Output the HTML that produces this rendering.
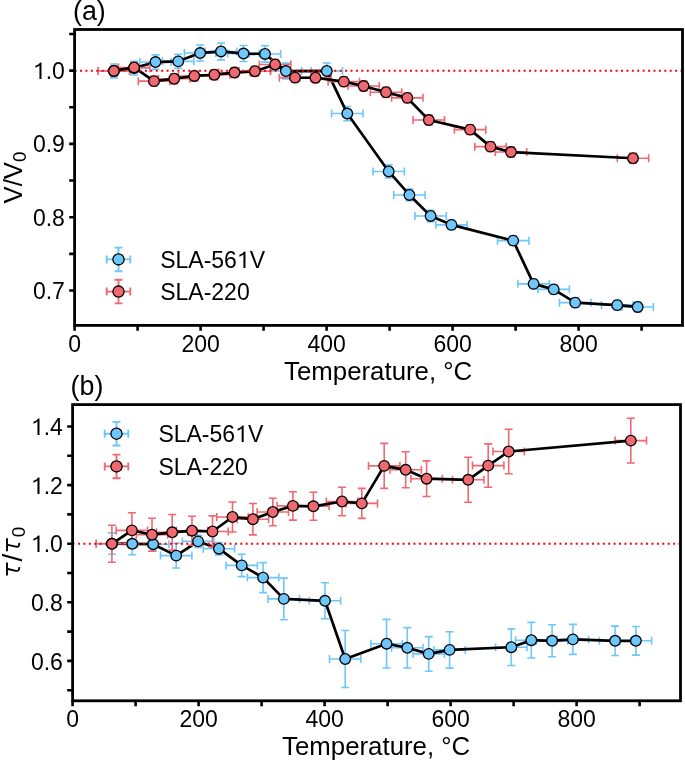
<!DOCTYPE html>
<html><head><meta charset="utf-8"><style>
html,body{margin:0;padding:0;background:#fff;}
svg{display:block;font-family:"Liberation Sans", sans-serif;will-change:transform;}
text{}
</style></head><body>
<svg width="685" height="762" viewBox="0 0 685 762">
<rect width="685" height="762" fill="#fff"/>
<path d="M98.20,70.95H129.60M98.20,66.95V74.95M129.60,66.95V74.95M113.90,64.05V77.85M109.90,64.05H117.90M109.90,77.85H117.90M118.40,68.15H149.80M118.40,64.15V72.15M149.80,64.15V72.15M134.10,61.35V74.95M130.10,61.35H138.10M130.10,74.95H138.10M139.80,62.05H171.20M139.80,58.05V66.05M171.20,58.05V66.05M155.50,54.85V69.25M151.50,54.85H159.50M151.50,69.25H159.50M162.50,61.35H193.90M162.50,57.35V65.35M193.90,57.35V65.35M178.20,54.35V68.35M174.20,54.35H182.20M174.20,68.35H182.20M184.40,53.05H215.80M184.40,49.05V57.05M215.80,49.05V57.05M200.10,45.05V61.05M196.10,45.05H204.10M196.10,61.05H204.10M205.30,51.45H236.70M205.30,47.45V55.45M236.70,47.45V55.45M221.00,43.05V59.85M217.00,43.05H225.00M217.00,59.85H225.00M227.80,53.55H259.20M227.80,49.55V57.55M259.20,49.55V57.55M243.50,45.55V61.55M239.50,45.55H247.50M239.50,61.55H247.50M249.30,53.95H280.70M249.30,49.95V57.95M280.70,49.95V57.95M265.00,45.75V62.15M261.00,45.75H269.00M261.00,62.15H269.00M270.20,71.05H301.60M270.20,67.05V75.05M301.60,67.05V75.05M285.90,63.15V78.95M281.90,63.15H289.90M281.90,78.95H289.90M311.10,70.95H342.50M311.10,66.95V74.95M342.50,66.95V74.95M326.80,62.95V78.95M322.80,62.95H330.80M322.80,78.95H330.80M331.60,113.55H363.00M331.60,109.55V117.55M363.00,109.55V117.55M347.30,106.45V120.65M343.30,106.45H351.30M343.30,120.65H351.30M373.00,171.45H404.40M373.00,167.45V175.45M404.40,167.45V175.45M388.70,164.85V178.05M384.70,164.85H392.70M384.70,178.05H392.70M393.70,194.95H425.10M393.70,190.95V198.95M425.10,190.95V198.95M409.40,189.15V200.75M405.40,189.15H413.40M405.40,200.75H413.40M414.90,215.95H446.30M414.90,211.95V219.95M446.30,211.95V219.95M430.60,210.25V221.65M426.60,210.25H434.60M426.60,221.65H434.60M435.80,224.85H467.20M435.80,220.85V228.85M467.20,220.85V228.85M451.50,219.95V229.75M447.50,219.95H455.50M447.50,229.75H455.50M497.50,240.65H528.90M497.50,236.65V244.65M528.90,236.65V244.65M513.20,235.75V245.55M509.20,235.75H517.20M509.20,245.55H517.20M517.90,283.85H549.30M517.90,279.85V287.85M549.30,279.85V287.85M533.60,278.95V288.75M529.60,278.95H537.60M529.60,288.75H537.60M538.00,289.35H569.40M538.00,285.35V293.35M569.40,285.35V293.35M553.70,284.45V294.25M549.70,284.45H557.70M549.70,294.25H557.70M559.50,302.65H590.90M559.50,298.65V306.65M590.90,298.65V306.65M575.20,297.75V307.55M571.20,297.75H579.20M571.20,307.55H579.20M601.50,305.15H632.90M601.50,301.15V309.15M632.90,301.15V309.15M617.20,300.25V310.05M613.20,300.25H621.20M613.20,310.05H621.20M622.00,306.95H653.40M622.00,302.95V310.95M653.40,302.95V310.95M637.70,302.05V311.85M633.70,302.05H641.70M633.70,311.85H641.70" stroke="#6ec6fa" stroke-width="1.6" fill="none"/>
<path d="M113.90,70.95L134.10,68.15L155.50,62.05L178.20,61.35L200.10,53.05L221.00,51.45L243.50,53.55L265.00,53.95L285.90,71.05L326.80,70.95L347.30,113.55L388.70,171.45L409.40,194.95L430.60,215.95L451.50,224.85L513.20,240.65L533.60,283.85L553.70,289.35L575.20,302.65L617.20,305.15L637.70,306.95" stroke="#000" stroke-width="2.7" fill="none" stroke-linejoin="round"/>
<path d="M98.20,70.95H129.60M98.20,66.95V74.95M129.60,66.95V74.95M113.90,66.05V75.85M109.90,66.05H117.90M109.90,75.85H117.90M118.40,67.45H149.80M118.40,63.45V71.45M149.80,63.45V71.45M134.10,62.55V72.35M130.10,62.55H138.10M130.10,72.35H138.10M138.30,81.15H169.70M138.30,77.15V85.15M169.70,77.15V85.15M154.00,76.25V86.05M150.00,76.25H158.00M150.00,86.05H158.00M158.50,78.75H189.90M158.50,74.75V82.75M189.90,74.75V82.75M174.20,73.85V83.65M170.20,73.85H178.20M170.20,83.65H178.20M178.60,75.95H210.00M178.60,71.95V79.95M210.00,71.95V79.95M194.30,71.05V80.85M190.30,71.05H198.30M190.30,80.85H198.30M198.60,74.75H230.00M198.60,70.75V78.75M230.00,70.75V78.75M214.30,69.85V79.65M210.30,69.85H218.30M210.30,79.65H218.30M218.80,72.55H250.20M218.80,68.55V76.55M250.20,68.55V76.55M234.50,67.65V77.45M230.50,67.65H238.50M230.50,77.45H238.50M239.20,71.25H270.60M239.20,67.25V75.25M270.60,67.25V75.25M254.90,66.35V76.15M250.90,66.35H258.90M250.90,76.15H258.90M259.40,64.45H290.80M259.40,60.45V68.45M290.80,60.45V68.45M275.10,59.55V69.35M271.10,59.55H279.10M271.10,69.35H279.10M279.30,77.65H310.70M279.30,73.65V81.65M310.70,73.65V81.65M295.00,72.75V82.55M291.00,72.75H299.00M291.00,82.55H299.00M299.80,77.75H331.20M299.80,73.75V81.75M331.20,73.75V81.75M315.50,72.85V82.65M311.50,72.85H319.50M311.50,82.65H319.50M328.10,81.65H359.50M328.10,77.65V85.65M359.50,77.65V85.65M343.80,76.75V86.55M339.80,76.75H347.80M339.80,86.55H347.80M347.90,86.05H379.30M347.90,82.05V90.05M379.30,82.05V90.05M363.60,81.15V90.95M359.60,81.15H367.60M359.60,90.95H367.60M370.30,92.25H401.70M370.30,88.25V96.25M401.70,88.25V96.25M386.00,87.35V97.15M382.00,87.35H390.00M382.00,97.15H390.00M391.60,97.85H423.00M391.60,93.85V101.85M423.00,93.85V101.85M407.30,92.95V102.75M403.30,92.95H411.30M403.30,102.75H411.30M413.10,120.05H444.50M413.10,116.05V124.05M444.50,116.05V124.05M428.80,115.15V124.95M424.80,115.15H432.80M424.80,124.95H432.80M454.40,129.65H485.80M454.40,125.65V133.65M485.80,125.65V133.65M470.10,124.75V134.55M466.10,124.75H474.10M466.10,134.55H474.10M474.80,146.65H506.20M474.80,142.65V150.65M506.20,142.65V150.65M490.50,141.75V151.55M486.50,141.75H494.50M486.50,151.55H494.50M495.30,152.05H526.70M495.30,148.05V156.05M526.70,148.05V156.05M511.00,147.15V156.95M507.00,147.15H515.00M507.00,156.95H515.00M617.30,158.25H648.70M617.30,154.25V162.25M648.70,154.25V162.25M633.00,153.35V163.15M629.00,153.35H637.00M629.00,163.15H637.00" stroke="#f06870" stroke-width="1.6" fill="none"/>
<path d="M113.90,70.95L134.10,67.45L154.00,81.15L174.20,78.75L194.30,75.95L214.30,74.75L234.50,72.55L254.90,71.25L275.10,64.45L295.00,77.65L315.50,77.75L343.80,81.65L363.60,86.05L386.00,92.25L407.30,97.85L428.80,120.05L470.10,129.65L490.50,146.65L511.00,152.05L633.00,158.25" stroke="#000" stroke-width="2.7" fill="none" stroke-linejoin="round"/>
<line x1="74.60" y1="70.85" x2="681.10" y2="70.85" stroke="#ff0000" stroke-width="2" stroke-dasharray="2 3.41"/>
<circle cx="113.90" cy="70.95" r="5.3" fill="#6ec6fa" stroke="#000" stroke-width="1.3"/>
<circle cx="134.10" cy="68.15" r="5.3" fill="#6ec6fa" stroke="#000" stroke-width="1.3"/>
<circle cx="155.50" cy="62.05" r="5.3" fill="#6ec6fa" stroke="#000" stroke-width="1.3"/>
<circle cx="178.20" cy="61.35" r="5.3" fill="#6ec6fa" stroke="#000" stroke-width="1.3"/>
<circle cx="200.10" cy="53.05" r="5.3" fill="#6ec6fa" stroke="#000" stroke-width="1.3"/>
<circle cx="221.00" cy="51.45" r="5.3" fill="#6ec6fa" stroke="#000" stroke-width="1.3"/>
<circle cx="243.50" cy="53.55" r="5.3" fill="#6ec6fa" stroke="#000" stroke-width="1.3"/>
<circle cx="265.00" cy="53.95" r="5.3" fill="#6ec6fa" stroke="#000" stroke-width="1.3"/>
<circle cx="285.90" cy="71.05" r="5.3" fill="#6ec6fa" stroke="#000" stroke-width="1.3"/>
<circle cx="326.80" cy="70.95" r="5.3" fill="#6ec6fa" stroke="#000" stroke-width="1.3"/>
<circle cx="347.30" cy="113.55" r="5.3" fill="#6ec6fa" stroke="#000" stroke-width="1.3"/>
<circle cx="388.70" cy="171.45" r="5.3" fill="#6ec6fa" stroke="#000" stroke-width="1.3"/>
<circle cx="409.40" cy="194.95" r="5.3" fill="#6ec6fa" stroke="#000" stroke-width="1.3"/>
<circle cx="430.60" cy="215.95" r="5.3" fill="#6ec6fa" stroke="#000" stroke-width="1.3"/>
<circle cx="451.50" cy="224.85" r="5.3" fill="#6ec6fa" stroke="#000" stroke-width="1.3"/>
<circle cx="513.20" cy="240.65" r="5.3" fill="#6ec6fa" stroke="#000" stroke-width="1.3"/>
<circle cx="533.60" cy="283.85" r="5.3" fill="#6ec6fa" stroke="#000" stroke-width="1.3"/>
<circle cx="553.70" cy="289.35" r="5.3" fill="#6ec6fa" stroke="#000" stroke-width="1.3"/>
<circle cx="575.20" cy="302.65" r="5.3" fill="#6ec6fa" stroke="#000" stroke-width="1.3"/>
<circle cx="617.20" cy="305.15" r="5.3" fill="#6ec6fa" stroke="#000" stroke-width="1.3"/>
<circle cx="637.70" cy="306.95" r="5.3" fill="#6ec6fa" stroke="#000" stroke-width="1.3"/>
<circle cx="113.90" cy="70.95" r="5.3" fill="#f06870" stroke="#000" stroke-width="1.3"/>
<circle cx="134.10" cy="67.45" r="5.3" fill="#f06870" stroke="#000" stroke-width="1.3"/>
<circle cx="154.00" cy="81.15" r="5.3" fill="#f06870" stroke="#000" stroke-width="1.3"/>
<circle cx="174.20" cy="78.75" r="5.3" fill="#f06870" stroke="#000" stroke-width="1.3"/>
<circle cx="194.30" cy="75.95" r="5.3" fill="#f06870" stroke="#000" stroke-width="1.3"/>
<circle cx="214.30" cy="74.75" r="5.3" fill="#f06870" stroke="#000" stroke-width="1.3"/>
<circle cx="234.50" cy="72.55" r="5.3" fill="#f06870" stroke="#000" stroke-width="1.3"/>
<circle cx="254.90" cy="71.25" r="5.3" fill="#f06870" stroke="#000" stroke-width="1.3"/>
<circle cx="275.10" cy="64.45" r="5.3" fill="#f06870" stroke="#000" stroke-width="1.3"/>
<circle cx="295.00" cy="77.65" r="5.3" fill="#f06870" stroke="#000" stroke-width="1.3"/>
<circle cx="315.50" cy="77.75" r="5.3" fill="#f06870" stroke="#000" stroke-width="1.3"/>
<circle cx="343.80" cy="81.65" r="5.3" fill="#f06870" stroke="#000" stroke-width="1.3"/>
<circle cx="363.60" cy="86.05" r="5.3" fill="#f06870" stroke="#000" stroke-width="1.3"/>
<circle cx="386.00" cy="92.25" r="5.3" fill="#f06870" stroke="#000" stroke-width="1.3"/>
<circle cx="407.30" cy="97.85" r="5.3" fill="#f06870" stroke="#000" stroke-width="1.3"/>
<circle cx="428.80" cy="120.05" r="5.3" fill="#f06870" stroke="#000" stroke-width="1.3"/>
<circle cx="470.10" cy="129.65" r="5.3" fill="#f06870" stroke="#000" stroke-width="1.3"/>
<circle cx="490.50" cy="146.65" r="5.3" fill="#f06870" stroke="#000" stroke-width="1.3"/>
<circle cx="511.00" cy="152.05" r="5.3" fill="#f06870" stroke="#000" stroke-width="1.3"/>
<circle cx="633.00" cy="158.25" r="5.3" fill="#f06870" stroke="#000" stroke-width="1.3"/>
<rect x="74.60" y="29.50" width="607.90" height="295.90" fill="none" stroke="#000" stroke-width="2.8"/>
<path d="M74.60,325.40v5.40M200.60,325.40v5.40M326.60,325.40v5.40M452.60,325.40v5.40M578.60,325.40v5.40M137.60,325.40v5.40M263.60,325.40v5.40M389.60,325.40v5.40M515.60,325.40v5.40M641.60,325.40v5.40M74.60,290.50h-5.40M74.60,217.20h-5.40M74.60,143.90h-5.40M74.60,70.60h-5.40M74.60,253.85h-5.40M74.60,180.55h-5.40M74.60,107.25h-5.40M74.60,33.95h-5.40" stroke="#000" stroke-width="2.6" fill="none"/>
<text x="74.60" y="352.00" font-size="23" text-anchor="middle" >0</text>
<text x="200.60" y="352.00" font-size="23" text-anchor="middle" >200</text>
<text x="326.60" y="352.00" font-size="23" text-anchor="middle" >400</text>
<text x="452.60" y="352.00" font-size="23" text-anchor="middle" >600</text>
<text x="578.60" y="352.00" font-size="23" text-anchor="middle" >800</text>
<text x="64.90" y="299.00" font-size="23" text-anchor="end" >0.7</text>
<text x="64.90" y="225.70" font-size="23" text-anchor="end" >0.8</text>
<text x="64.90" y="152.40" font-size="23" text-anchor="end" >0.9</text>
<text x="64.90" y="79.10" font-size="23" text-anchor="end" > .0</text>
<text x="284.10" y="380.40" font-size="25.8" text-anchor="start" >Temperature, °C</text>
<text transform="translate(22.2,177.5) rotate(-90)" font-size="25.8" text-anchor="middle">V/V<tspan font-size="18.8" dy="4.2">0</tspan></text>
<text x="73.00" y="20.40" font-size="26.8" text-anchor="start" >(a)</text>
<path d="M106.70,259.40H130.30M118.50,247.60V271.20M106.70,255.40V263.40M130.30,255.40V263.40M114.50,247.60H122.50M114.50,271.20H122.50" stroke="#6ec6fa" stroke-width="1.9" fill="none"/>
<circle cx="118.50" cy="259.40" r="5.6" fill="#6ec6fa" stroke="#000" stroke-width="1.3"/>
<text x="160.20" y="267.80" font-size="23" text-anchor="start" >SLA-56 V</text>
<path d="M106.70,291.60H130.30M118.50,279.80V303.40M106.70,287.60V295.60M130.30,287.60V295.60M114.50,279.80H122.50M114.50,303.40H122.50" stroke="#f06870" stroke-width="1.9" fill="none"/>
<circle cx="118.50" cy="291.60" r="5.6" fill="#f06870" stroke="#000" stroke-width="1.3"/>
<text x="160.20" y="300.00" font-size="23" text-anchor="start" >SLA-220</text>
<path d="M96.20,543.60H127.60M96.20,539.60V547.60M127.60,539.60V547.60M111.90,532.90V554.30M107.90,532.90H115.90M107.90,554.30H115.90M116.60,543.80H148.00M116.60,539.80V547.80M148.00,539.80V547.80M132.30,532.80V554.80M128.30,532.80H136.30M128.30,554.80H136.30M137.50,544.20H168.90M137.50,540.20V548.20M168.90,540.20V548.20M153.20,537.20V551.20M149.20,537.20H157.20M149.20,551.20H157.20M160.50,555.60H191.90M160.50,551.60V559.60M191.90,551.60V559.60M176.20,543.20V568.00M172.20,543.20H180.20M172.20,568.00H180.20M182.40,541.40H213.80M182.40,537.40V545.40M213.80,537.40V545.40M198.10,535.40V547.40M194.10,535.40H202.10M194.10,547.40H202.10M203.20,548.70H234.60M203.20,544.70V552.70M234.60,544.70V552.70M218.90,542.50V554.90M214.90,542.50H222.90M214.90,554.90H222.90M226.00,565.40H257.40M226.00,561.40V569.40M257.40,561.40V569.40M241.70,554.20V576.60M237.70,554.20H245.70M237.70,576.60H245.70M247.40,577.60H278.80M247.40,573.60V581.60M278.80,573.60V581.60M263.10,562.60V592.60M259.10,562.60H267.10M259.10,592.60H267.10M268.10,598.90H299.50M268.10,594.90V602.90M299.50,594.90V602.90M283.80,578.10V619.70M279.80,578.10H287.80M279.80,619.70H287.80M309.30,600.80H340.70M309.30,596.80V604.80M340.70,596.80V604.80M325.00,582.80V618.80M321.00,582.80H329.00M321.00,618.80H329.00M329.50,659.00H360.90M329.50,655.00V663.00M360.90,655.00V663.00M345.20,630.50V687.50M341.20,630.50H349.20M341.20,687.50H349.20M370.90,643.70H402.30M370.90,639.70V647.70M402.30,639.70V647.70M386.60,619.40V668.00M382.60,619.40H390.60M382.60,668.00H390.60M391.60,647.80H423.00M391.60,643.80V651.80M423.00,643.80V651.80M407.30,627.60V668.00M403.30,627.60H411.30M403.30,668.00H411.30M413.00,653.90H444.40M413.00,649.90V657.90M444.40,649.90V657.90M428.70,636.60V671.20M424.70,636.60H432.70M424.70,671.20H432.70M433.90,649.90H465.30M433.90,645.90V653.90M465.30,645.90V653.90M449.60,631.70V668.10M445.60,631.70H453.60M445.60,668.10H453.60M495.60,647.20H527.00M495.60,643.20V651.20M527.00,643.20V651.20M511.30,628.90V665.50M507.30,628.90H515.30M507.30,665.50H515.30M515.60,640.20H547.00M515.60,636.20V644.20M547.00,636.20V644.20M531.30,622.40V658.00M527.30,622.40H535.30M527.30,658.00H535.30M536.40,640.80H567.80M536.40,636.80V644.80M567.80,636.80V644.80M552.10,624.80V656.80M548.10,624.80H556.10M548.10,656.80H556.10M557.20,639.40H588.60M557.20,635.40V643.40M588.60,635.40V643.40M572.90,624.40V654.40M568.90,624.40H576.90M568.90,654.40H576.90M599.40,640.80H630.80M599.40,636.80V644.80M630.80,636.80V644.80M615.10,626.10V655.50M611.10,626.10H619.10M611.10,655.50H619.10M620.20,640.80H651.60M620.20,636.80V644.80M651.60,636.80V644.80M635.90,626.50V655.10M631.90,626.50H639.90M631.90,655.10H639.90" stroke="#6ec6fa" stroke-width="1.6" fill="none"/>
<path d="M111.90,543.60L132.30,543.80L153.20,544.20L176.20,555.60L198.10,541.40L218.90,548.70L241.70,565.40L263.10,577.60L283.80,598.90L325.00,600.80L345.20,659.00L386.60,643.70L407.30,647.80L428.70,653.90L449.60,649.90L511.30,647.20L531.30,640.20L552.10,640.80L572.90,639.40L615.10,640.80L635.90,640.80" stroke="#000" stroke-width="2.7" fill="none" stroke-linejoin="round"/>
<path d="M96.20,543.80H127.60M96.20,539.80V547.80M127.60,539.80V547.80M111.90,525.30V562.30M107.90,525.30H115.90M107.90,562.30H115.90M116.20,530.40H147.60M116.20,526.40V534.40M147.60,526.40V534.40M131.90,512.80V548.00M127.90,512.80H135.90M127.90,548.00H135.90M136.30,534.70H167.70M136.30,530.70V538.70M167.70,530.70V538.70M152.00,518.30V551.10M148.00,518.30H156.00M148.00,551.10H156.00M156.50,532.30H187.90M156.50,528.30V536.30M187.90,528.30V536.30M172.20,514.50V550.10M168.20,514.50H176.20M168.20,550.10H176.20M176.30,530.70H207.70M176.30,526.70V534.70M207.70,526.70V534.70M192.00,516.20V545.20M188.00,516.20H196.00M188.00,545.20H196.00M196.80,531.50H228.20M196.80,527.50V535.50M228.20,527.50V535.50M212.50,515.90V547.10M208.50,515.90H216.50M208.50,547.10H216.50M216.80,517.00H248.20M216.80,513.00V521.00M248.20,513.00V521.00M232.50,502.00V532.00M228.50,502.00H236.50M228.50,532.00H236.50M237.20,519.20H268.60M237.20,515.20V523.20M268.60,515.20V523.20M252.90,503.50V534.90M248.90,503.50H256.90M248.90,534.90H256.90M257.10,512.00H288.50M257.10,508.00V516.00M288.50,508.00V516.00M272.80,498.30V525.70M268.80,498.30H276.80M268.80,525.70H276.80M277.20,505.90H308.60M277.20,501.90V509.90M308.60,501.90V509.90M292.90,491.70V520.10M288.90,491.70H296.90M288.90,520.10H296.90M297.70,506.30H329.10M297.70,502.30V510.30M329.10,502.30V510.30M313.40,492.30V520.30M309.40,492.30H317.40M309.40,520.30H317.40M326.30,501.50H357.70M326.30,497.50V505.50M357.70,497.50V505.50M342.00,487.30V515.70M338.00,487.30H346.00M338.00,515.70H346.00M346.10,503.40H377.50M346.10,499.40V507.40M377.50,499.40V507.40M361.80,488.40V518.40M357.80,488.40H365.80M357.80,518.40H365.80M368.50,465.90H399.90M368.50,461.90V469.90M399.90,461.90V469.90M384.20,443.40V488.40M380.20,443.40H388.20M380.20,488.40H388.20M390.00,469.80H421.40M390.00,465.80V473.80M421.40,465.80V473.80M405.70,451.80V487.80M401.70,451.80H409.70M401.70,487.80H409.70M410.90,478.70H442.30M410.90,474.70V482.70M442.30,474.70V482.70M426.60,460.90V496.50M422.60,460.90H430.60M422.60,496.50H430.60M452.50,479.80H483.90M452.50,475.80V483.80M483.90,475.80V483.80M468.20,457.30V502.30M464.20,457.30H472.20M464.20,502.30H472.20M472.50,465.60H503.90M472.50,461.60V469.60M503.90,461.60V469.60M488.20,443.90V487.30M484.20,443.90H492.20M484.20,487.30H492.20M493.00,451.50H524.40M493.00,447.50V455.50M524.40,447.50V455.50M508.70,429.20V473.80M504.70,429.20H512.70M504.70,473.80H512.70M615.10,440.60H646.50M615.10,436.60V444.60M646.50,436.60V444.60M630.80,418.20V463.00M626.80,418.20H634.80M626.80,463.00H634.80" stroke="#f06870" stroke-width="1.6" fill="none"/>
<path d="M111.90,543.80L131.90,530.40L152.00,534.70L172.20,532.30L192.00,530.70L212.50,531.50L232.50,517.00L252.90,519.20L272.80,512.00L292.90,505.90L313.40,506.30L342.00,501.50L361.80,503.40L384.20,465.90L405.70,469.80L426.60,478.70L468.20,479.80L488.20,465.60L508.70,451.50L630.80,440.60" stroke="#000" stroke-width="2.7" fill="none" stroke-linejoin="round"/>
<line x1="72.60" y1="543.83" x2="679.10" y2="543.83" stroke="#ff0000" stroke-width="2" stroke-dasharray="2 3.41"/>
<circle cx="111.90" cy="543.60" r="5.3" fill="#6ec6fa" stroke="#000" stroke-width="1.3"/>
<circle cx="132.30" cy="543.80" r="5.3" fill="#6ec6fa" stroke="#000" stroke-width="1.3"/>
<circle cx="153.20" cy="544.20" r="5.3" fill="#6ec6fa" stroke="#000" stroke-width="1.3"/>
<circle cx="176.20" cy="555.60" r="5.3" fill="#6ec6fa" stroke="#000" stroke-width="1.3"/>
<circle cx="198.10" cy="541.40" r="5.3" fill="#6ec6fa" stroke="#000" stroke-width="1.3"/>
<circle cx="218.90" cy="548.70" r="5.3" fill="#6ec6fa" stroke="#000" stroke-width="1.3"/>
<circle cx="241.70" cy="565.40" r="5.3" fill="#6ec6fa" stroke="#000" stroke-width="1.3"/>
<circle cx="263.10" cy="577.60" r="5.3" fill="#6ec6fa" stroke="#000" stroke-width="1.3"/>
<circle cx="283.80" cy="598.90" r="5.3" fill="#6ec6fa" stroke="#000" stroke-width="1.3"/>
<circle cx="325.00" cy="600.80" r="5.3" fill="#6ec6fa" stroke="#000" stroke-width="1.3"/>
<circle cx="345.20" cy="659.00" r="5.3" fill="#6ec6fa" stroke="#000" stroke-width="1.3"/>
<circle cx="386.60" cy="643.70" r="5.3" fill="#6ec6fa" stroke="#000" stroke-width="1.3"/>
<circle cx="407.30" cy="647.80" r="5.3" fill="#6ec6fa" stroke="#000" stroke-width="1.3"/>
<circle cx="428.70" cy="653.90" r="5.3" fill="#6ec6fa" stroke="#000" stroke-width="1.3"/>
<circle cx="449.60" cy="649.90" r="5.3" fill="#6ec6fa" stroke="#000" stroke-width="1.3"/>
<circle cx="511.30" cy="647.20" r="5.3" fill="#6ec6fa" stroke="#000" stroke-width="1.3"/>
<circle cx="531.30" cy="640.20" r="5.3" fill="#6ec6fa" stroke="#000" stroke-width="1.3"/>
<circle cx="552.10" cy="640.80" r="5.3" fill="#6ec6fa" stroke="#000" stroke-width="1.3"/>
<circle cx="572.90" cy="639.40" r="5.3" fill="#6ec6fa" stroke="#000" stroke-width="1.3"/>
<circle cx="615.10" cy="640.80" r="5.3" fill="#6ec6fa" stroke="#000" stroke-width="1.3"/>
<circle cx="635.90" cy="640.80" r="5.3" fill="#6ec6fa" stroke="#000" stroke-width="1.3"/>
<circle cx="111.90" cy="543.80" r="5.3" fill="#f06870" stroke="#000" stroke-width="1.3"/>
<circle cx="131.90" cy="530.40" r="5.3" fill="#f06870" stroke="#000" stroke-width="1.3"/>
<circle cx="152.00" cy="534.70" r="5.3" fill="#f06870" stroke="#000" stroke-width="1.3"/>
<circle cx="172.20" cy="532.30" r="5.3" fill="#f06870" stroke="#000" stroke-width="1.3"/>
<circle cx="192.00" cy="530.70" r="5.3" fill="#f06870" stroke="#000" stroke-width="1.3"/>
<circle cx="212.50" cy="531.50" r="5.3" fill="#f06870" stroke="#000" stroke-width="1.3"/>
<circle cx="232.50" cy="517.00" r="5.3" fill="#f06870" stroke="#000" stroke-width="1.3"/>
<circle cx="252.90" cy="519.20" r="5.3" fill="#f06870" stroke="#000" stroke-width="1.3"/>
<circle cx="272.80" cy="512.00" r="5.3" fill="#f06870" stroke="#000" stroke-width="1.3"/>
<circle cx="292.90" cy="505.90" r="5.3" fill="#f06870" stroke="#000" stroke-width="1.3"/>
<circle cx="313.40" cy="506.30" r="5.3" fill="#f06870" stroke="#000" stroke-width="1.3"/>
<circle cx="342.00" cy="501.50" r="5.3" fill="#f06870" stroke="#000" stroke-width="1.3"/>
<circle cx="361.80" cy="503.40" r="5.3" fill="#f06870" stroke="#000" stroke-width="1.3"/>
<circle cx="384.20" cy="465.90" r="5.3" fill="#f06870" stroke="#000" stroke-width="1.3"/>
<circle cx="405.70" cy="469.80" r="5.3" fill="#f06870" stroke="#000" stroke-width="1.3"/>
<circle cx="426.60" cy="478.70" r="5.3" fill="#f06870" stroke="#000" stroke-width="1.3"/>
<circle cx="468.20" cy="479.80" r="5.3" fill="#f06870" stroke="#000" stroke-width="1.3"/>
<circle cx="488.20" cy="465.60" r="5.3" fill="#f06870" stroke="#000" stroke-width="1.3"/>
<circle cx="508.70" cy="451.50" r="5.3" fill="#f06870" stroke="#000" stroke-width="1.3"/>
<circle cx="630.80" cy="440.60" r="5.3" fill="#f06870" stroke="#000" stroke-width="1.3"/>
<rect x="72.60" y="404.60" width="607.90" height="296.20" fill="none" stroke="#000" stroke-width="2.8"/>
<path d="M72.60,700.80v5.40M198.60,700.80v5.40M324.60,700.80v5.40M450.60,700.80v5.40M576.60,700.80v5.40M135.60,700.80v5.40M261.60,700.80v5.40M387.60,700.80v5.40M513.60,700.80v5.40M639.60,700.80v5.40M72.60,660.90h-5.40M72.60,602.30h-5.40M72.60,543.70h-5.40M72.60,485.10h-5.40M72.60,426.50h-5.40M72.60,690.20h-5.40M72.60,631.60h-5.40M72.60,573.00h-5.40M72.60,514.40h-5.40M72.60,455.80h-5.40" stroke="#000" stroke-width="2.6" fill="none"/>
<text x="72.60" y="727.00" font-size="23" text-anchor="middle" >0</text>
<text x="198.60" y="727.00" font-size="23" text-anchor="middle" >200</text>
<text x="324.60" y="727.00" font-size="23" text-anchor="middle" >400</text>
<text x="450.60" y="727.00" font-size="23" text-anchor="middle" >600</text>
<text x="576.60" y="727.00" font-size="23" text-anchor="middle" >800</text>
<text x="62.90" y="669.60" font-size="23" text-anchor="end" >0.6</text>
<text x="62.90" y="611.00" font-size="23" text-anchor="end" >0.8</text>
<text x="62.90" y="552.40" font-size="23" text-anchor="end" > .0</text>
<text x="62.90" y="493.80" font-size="23" text-anchor="end" > .2</text>
<text x="62.90" y="435.20" font-size="23" text-anchor="end" > .4</text>
<text x="282.10" y="755.40" font-size="25.8" text-anchor="start" >Temperature, °C</text>
<path d="M7.0,562.50V575.50" stroke="#000" stroke-width="1.9" fill="none"/><path d="M7.9,569.00L15.8,570.80C18.6,571.40 19.4,570.00 19.2,567.10" stroke="#000" stroke-width="1.85" fill="none"/><text transform="translate(21.7,561.4) rotate(-90)" font-size="28">/</text><path d="M7.0,538.30V551.30" stroke="#000" stroke-width="1.9" fill="none"/><path d="M7.9,544.80L15.8,546.60C18.6,547.20 19.4,545.80 19.2,542.90" stroke="#000" stroke-width="1.85" fill="none"/><text transform="translate(24.7,537.3) rotate(-90)" font-size="19">0</text>
<text x="70.60" y="395.40" font-size="26.8" text-anchor="start" >(b)</text>
<path d="M104.70,433.70H128.30M116.50,421.90V445.50M104.70,429.70V437.70M128.30,429.70V437.70M112.50,421.90H120.50M112.50,445.50H120.50" stroke="#6ec6fa" stroke-width="1.9" fill="none"/>
<circle cx="116.50" cy="433.70" r="5.6" fill="#6ec6fa" stroke="#000" stroke-width="1.3"/>
<text x="158.40" y="442.10" font-size="23" text-anchor="start" >SLA-56 V</text>
<path d="M104.70,466.40H128.30M116.50,454.60V478.20M104.70,462.40V470.40M128.30,462.40V470.40M112.50,454.60H120.50M112.50,478.20H120.50" stroke="#f06870" stroke-width="1.9" fill="none"/>
<circle cx="116.50" cy="466.40" r="5.6" fill="#f06870" stroke="#000" stroke-width="1.3"/>
<text x="158.40" y="474.80" font-size="23" text-anchor="start" >SLA-220</text>
<path transform="translate(32.92,79) scale(0.011230,-0.011230)" d="M583,0L763,0L763,1480L650,1480Q525,1290 223,1180L223,1000Q420,1080 583,1195Z"/>
<path transform="translate(236.90,268) scale(0.011230,-0.011230)" d="M583,0L763,0L763,1480L650,1480Q525,1290 223,1180L223,1000Q420,1080 583,1195Z"/>
<path transform="translate(30.92,552) scale(0.011230,-0.011230)" d="M583,0L763,0L763,1480L650,1480Q525,1290 223,1180L223,1000Q420,1080 583,1195Z"/>
<path transform="translate(30.92,494) scale(0.011230,-0.011230)" d="M583,0L763,0L763,1480L650,1480Q525,1290 223,1180L223,1000Q420,1080 583,1195Z"/>
<path transform="translate(30.92,435) scale(0.011230,-0.011230)" d="M583,0L763,0L763,1480L650,1480Q525,1290 223,1180L223,1000Q420,1080 583,1195Z"/>
<path transform="translate(235.10,442) scale(0.011230,-0.011230)" d="M583,0L763,0L763,1480L650,1480Q525,1290 223,1180L223,1000Q420,1080 583,1195Z"/>
</svg>
</body></html>
